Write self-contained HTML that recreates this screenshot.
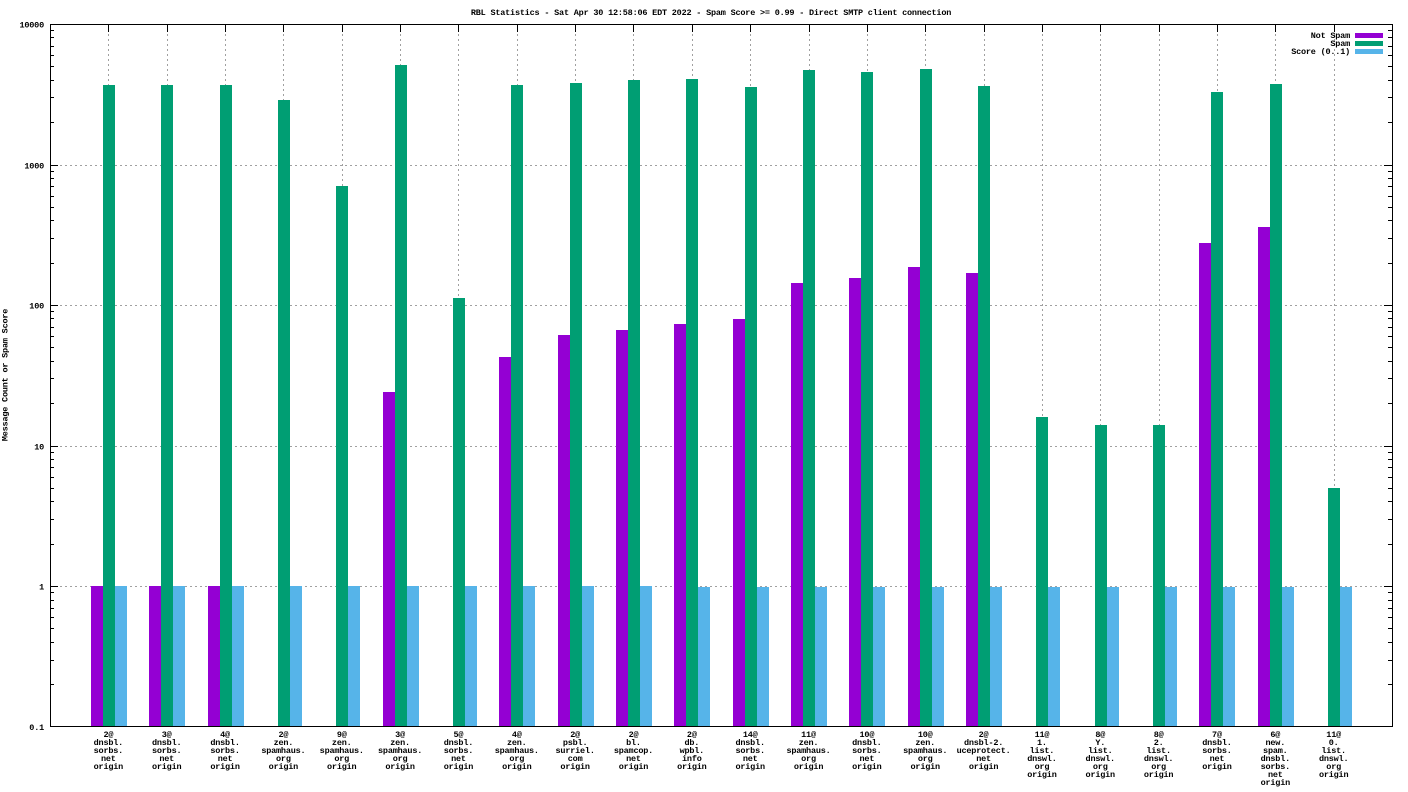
<!DOCTYPE html>
<html><head><meta charset="utf-8"><style>
html,body{margin:0;padding:0;background:#fff;}
svg{display:block;}
text{font-family:"Liberation Mono","DejaVu Sans Mono",monospace;font-size:8.5px;font-weight:bold;letter-spacing:-0.2px;fill:#000;}
</style></head><body>
<svg width="1408" height="792" viewBox="0 0 1408 792" xmlns="http://www.w3.org/2000/svg">
<rect x="0" y="0" width="1408" height="792" fill="#fff"/>
<!-- grid -->
<g stroke="#a0a0a0" stroke-width="1" stroke-dasharray="2,3" fill="none">
<path d="M50 586.5H1392M50 446.5H1392M50 305.5H1392M50 165.5H1392"/>
<path d="M108.5 24V727M167.5 24V727M225.5 24V727M283.5 24V727M342.5 24V727M400.5 24V727M458.5 24V727M517.5 24V727M575.5 24V727M633.5 24V727M692.5 24V727M750.5 24V727M809.5 24V727M867.5 24V727M925.5 24V727M984.5 24V727M1042.5 24V727M1100.5 24V727M1159.5 24V727M1217.5 24V727M1275.5 24V727M1334.5 24V727"/>
</g>
<!-- ticks -->
<g stroke="#000" stroke-width="1" fill="none">
<path d="M50 24.5h8M50 165.5h8M50 305.5h8M50 446.5h8M50 586.5h8M50 726.5h8M1392 24.5h-8M1392 165.5h-8M1392 305.5h-8M1392 446.5h-8M1392 586.5h-8M1392 726.5h-8"/>
<path d="M50 684.5h4M50 660.5h4M50 642.5h4M50 628.5h4M50 617.5h4M50 608.5h4M50 600.5h4M50 592.5h4M50 544.5h4M50 519.5h4M50 501.5h4M50 488.5h4M50 477.5h4M50 467.5h4M50 459.5h4M50 452.5h4M50 403.5h4M50 378.5h4M50 361.5h4M50 347.5h4M50 336.5h4M50 327.5h4M50 318.5h4M50 311.5h4M50 263.5h4M50 238.5h4M50 220.5h4M50 207.5h4M50 196.5h4M50 186.5h4M50 178.5h4M50 171.5h4M50 122.5h4M50 97.5h4M50 80.5h4M50 66.5h4M50 55.5h4M50 46.5h4M50 37.5h4M50 30.5h4"/>
<path d="M1392 684.5h-4M1392 660.5h-4M1392 642.5h-4M1392 628.5h-4M1392 617.5h-4M1392 608.5h-4M1392 600.5h-4M1392 592.5h-4M1392 544.5h-4M1392 519.5h-4M1392 501.5h-4M1392 488.5h-4M1392 477.5h-4M1392 467.5h-4M1392 459.5h-4M1392 452.5h-4M1392 403.5h-4M1392 378.5h-4M1392 361.5h-4M1392 347.5h-4M1392 336.5h-4M1392 327.5h-4M1392 318.5h-4M1392 311.5h-4M1392 263.5h-4M1392 238.5h-4M1392 220.5h-4M1392 207.5h-4M1392 196.5h-4M1392 186.5h-4M1392 178.5h-4M1392 171.5h-4M1392 122.5h-4M1392 97.5h-4M1392 80.5h-4M1392 66.5h-4M1392 55.5h-4M1392 46.5h-4M1392 37.5h-4M1392 30.5h-4"/>
<path d="M108.5 24v8M167.5 24v8M225.5 24v8M283.5 24v8M342.5 24v8M400.5 24v8M458.5 24v8M517.5 24v8M575.5 24v8M633.5 24v8M692.5 24v8M750.5 24v8M809.5 24v8M867.5 24v8M925.5 24v8M984.5 24v8M1042.5 24v8M1100.5 24v8M1159.5 24v8M1217.5 24v8M1275.5 24v8M1334.5 24v8"/>
<path d="M108.5 727v-8M167.5 727v-8M225.5 727v-8M283.5 727v-8M342.5 727v-8M400.5 727v-8M458.5 727v-8M517.5 727v-8M575.5 727v-8M633.5 727v-8M692.5 727v-8M750.5 727v-8M809.5 727v-8M867.5 727v-8M925.5 727v-8M984.5 727v-8M1042.5 727v-8M1100.5 727v-8M1159.5 727v-8M1217.5 727v-8M1275.5 727v-8M1334.5 727v-8"/>
</g>
<!-- Not Spam bars -->
<g fill="#9400d3">
<rect x="91" y="586" width="12" height="140"/>
<rect x="149" y="586" width="12" height="140"/>
<rect x="208" y="586" width="12" height="140"/>
<rect x="383" y="392" width="12" height="334"/>
<rect x="499" y="357" width="12" height="369"/>
<rect x="558" y="335" width="12" height="391"/>
<rect x="616" y="330" width="12" height="396"/>
<rect x="674" y="324" width="12" height="402"/>
<rect x="733" y="319" width="12" height="407"/>
<rect x="791" y="283" width="12" height="443"/>
<rect x="849" y="278" width="12" height="448"/>
<rect x="908" y="267" width="12" height="459"/>
<rect x="966" y="273" width="12" height="453"/>
<rect x="1199" y="243" width="12" height="483"/>
<rect x="1258" y="227" width="12" height="499"/>
</g>
<!-- Spam bars -->
<g fill="#009e73">
<rect x="103" y="85" width="12" height="641"/>
<rect x="161" y="85" width="12" height="641"/>
<rect x="220" y="85" width="12" height="641"/>
<rect x="278" y="100" width="12" height="626"/>
<rect x="336" y="186" width="12" height="540"/>
<rect x="395" y="65" width="12" height="661"/>
<rect x="453" y="298" width="12" height="428"/>
<rect x="511" y="85" width="12" height="641"/>
<rect x="570" y="83" width="12" height="643"/>
<rect x="628" y="80" width="12" height="646"/>
<rect x="686" y="79" width="12" height="647"/>
<rect x="745" y="87" width="12" height="639"/>
<rect x="803" y="70" width="12" height="656"/>
<rect x="861" y="72" width="12" height="654"/>
<rect x="920" y="69" width="12" height="657"/>
<rect x="978" y="86" width="12" height="640"/>
<rect x="1036" y="417" width="12" height="309"/>
<rect x="1095" y="425" width="12" height="301"/>
<rect x="1153" y="425" width="12" height="301"/>
<rect x="1211" y="92" width="12" height="634"/>
<rect x="1270" y="84" width="12" height="642"/>
<rect x="1328" y="488" width="12" height="238"/>
</g>
<!-- Score bars -->
<g fill="#56b4e9">
<rect x="115" y="586" width="12" height="140"/>
<rect x="173" y="586" width="12" height="140"/>
<rect x="232" y="586" width="12" height="140"/>
<rect x="290" y="586" width="12" height="140"/>
<rect x="348" y="586" width="12" height="140"/>
<rect x="407" y="586" width="12" height="140"/>
<rect x="465" y="586" width="12" height="140"/>
<rect x="523" y="586" width="12" height="140"/>
<rect x="582" y="586" width="12" height="140"/>
<rect x="640" y="586" width="12" height="140"/>
<rect x="698" y="587" width="12" height="139"/>
<rect x="757" y="587" width="12" height="139"/>
<rect x="815" y="587" width="12" height="139"/>
<rect x="873" y="587" width="12" height="139"/>
<rect x="932" y="587" width="12" height="139"/>
<rect x="990" y="587" width="12" height="139"/>
<rect x="1048" y="587" width="12" height="139"/>
<rect x="1107" y="587" width="12" height="139"/>
<rect x="1165" y="587" width="12" height="139"/>
<rect x="1223" y="587" width="12" height="139"/>
<rect x="1282" y="587" width="12" height="139"/>
<rect x="1340" y="587" width="12" height="139"/>
</g>
<!-- border -->
<rect x="50.5" y="24.5" width="1342" height="702" fill="none" stroke="#000" stroke-width="1"/>
<!-- title -->
<text x="711" y="15" text-anchor="middle">RBL Statistics - Sat Apr 30 12:58:06 EDT 2022 - Spam Score &gt;= 0.99 - Direct SMTP client connection</text>
<!-- y tick labels -->
<g text-anchor="end">
<text x="44" y="27.5">10000</text>
<text x="44" y="168.5">1000</text>
<text x="44" y="308.5">100</text>
<text x="44" y="449.5">10</text>
<text x="44" y="589.5">1</text>
<text x="44" y="730">0.1</text>
</g>
<!-- y label -->
<text x="0" y="0" text-anchor="middle" transform="translate(7.5,375) rotate(-90)">Message Count or Spam Score</text>
<!-- legend -->
<g text-anchor="end">
<text x="1350" y="38">Not Spam</text>
<text x="1350" y="46">Spam</text>
<text x="1350" y="54">Score (0..1)</text>
</g>
<rect x="1355" y="33" width="28" height="5" fill="#9400d3"/>
<rect x="1355" y="41" width="28" height="5" fill="#009e73"/>
<rect x="1355" y="49" width="28" height="5" fill="#56b4e9"/>
<!-- x labels -->
<g text-anchor="middle">
<text y="737"><tspan x="108.35">2@</tspan><tspan x="108.35" dy="8">dnsbl.</tspan><tspan x="108.35" dy="8">sorbs.</tspan><tspan x="108.35" dy="8">net</tspan><tspan x="108.35" dy="8">origin</tspan></text>
<text y="737"><tspan x="166.7">3@</tspan><tspan x="166.7" dy="8">dnsbl.</tspan><tspan x="166.7" dy="8">sorbs.</tspan><tspan x="166.7" dy="8">net</tspan><tspan x="166.7" dy="8">origin</tspan></text>
<text y="737"><tspan x="225.04">4@</tspan><tspan x="225.04" dy="8">dnsbl.</tspan><tspan x="225.04" dy="8">sorbs.</tspan><tspan x="225.04" dy="8">net</tspan><tspan x="225.04" dy="8">origin</tspan></text>
<text y="737"><tspan x="283.39">2@</tspan><tspan x="283.39" dy="8">zen.</tspan><tspan x="283.39" dy="8">spamhaus.</tspan><tspan x="283.39" dy="8">org</tspan><tspan x="283.39" dy="8">origin</tspan></text>
<text y="737"><tspan x="341.74">9@</tspan><tspan x="341.74" dy="8">zen.</tspan><tspan x="341.74" dy="8">spamhaus.</tspan><tspan x="341.74" dy="8">org</tspan><tspan x="341.74" dy="8">origin</tspan></text>
<text y="737"><tspan x="400.09">3@</tspan><tspan x="400.09" dy="8">zen.</tspan><tspan x="400.09" dy="8">spamhaus.</tspan><tspan x="400.09" dy="8">org</tspan><tspan x="400.09" dy="8">origin</tspan></text>
<text y="737"><tspan x="458.44">5@</tspan><tspan x="458.44" dy="8">dnsbl.</tspan><tspan x="458.44" dy="8">sorbs.</tspan><tspan x="458.44" dy="8">net</tspan><tspan x="458.44" dy="8">origin</tspan></text>
<text y="737"><tspan x="516.78">4@</tspan><tspan x="516.78" dy="8">zen.</tspan><tspan x="516.78" dy="8">spamhaus.</tspan><tspan x="516.78" dy="8">org</tspan><tspan x="516.78" dy="8">origin</tspan></text>
<text y="737"><tspan x="575.13">2@</tspan><tspan x="575.13" dy="8">psbl.</tspan><tspan x="575.13" dy="8">surriel.</tspan><tspan x="575.13" dy="8">com</tspan><tspan x="575.13" dy="8">origin</tspan></text>
<text y="737"><tspan x="633.48">2@</tspan><tspan x="633.48" dy="8">bl.</tspan><tspan x="633.48" dy="8">spamcop.</tspan><tspan x="633.48" dy="8">net</tspan><tspan x="633.48" dy="8">origin</tspan></text>
<text y="737"><tspan x="691.83">2@</tspan><tspan x="691.83" dy="8">db.</tspan><tspan x="691.83" dy="8">wpbl.</tspan><tspan x="691.83" dy="8">info</tspan><tspan x="691.83" dy="8">origin</tspan></text>
<text y="737"><tspan x="750.18">14@</tspan><tspan x="750.18" dy="8">dnsbl.</tspan><tspan x="750.18" dy="8">sorbs.</tspan><tspan x="750.18" dy="8">net</tspan><tspan x="750.18" dy="8">origin</tspan></text>
<text y="737"><tspan x="808.52">11@</tspan><tspan x="808.52" dy="8">zen.</tspan><tspan x="808.52" dy="8">spamhaus.</tspan><tspan x="808.52" dy="8">org</tspan><tspan x="808.52" dy="8">origin</tspan></text>
<text y="737"><tspan x="866.87">10@</tspan><tspan x="866.87" dy="8">dnsbl.</tspan><tspan x="866.87" dy="8">sorbs.</tspan><tspan x="866.87" dy="8">net</tspan><tspan x="866.87" dy="8">origin</tspan></text>
<text y="737"><tspan x="925.22">10@</tspan><tspan x="925.22" dy="8">zen.</tspan><tspan x="925.22" dy="8">spamhaus.</tspan><tspan x="925.22" dy="8">org</tspan><tspan x="925.22" dy="8">origin</tspan></text>
<text y="737"><tspan x="983.57">2@</tspan><tspan x="983.57" dy="8">dnsbl-2.</tspan><tspan x="983.57" dy="8">uceprotect.</tspan><tspan x="983.57" dy="8">net</tspan><tspan x="983.57" dy="8">origin</tspan></text>
<text y="737"><tspan x="1041.92">11@</tspan><tspan x="1041.92" dy="8">1.</tspan><tspan x="1041.92" dy="8">list.</tspan><tspan x="1041.92" dy="8">dnswl.</tspan><tspan x="1041.92" dy="8">org</tspan><tspan x="1041.92" dy="8">origin</tspan></text>
<text y="737"><tspan x="1100.26">8@</tspan><tspan x="1100.26" dy="8">Y.</tspan><tspan x="1100.26" dy="8">list.</tspan><tspan x="1100.26" dy="8">dnswl.</tspan><tspan x="1100.26" dy="8">org</tspan><tspan x="1100.26" dy="8">origin</tspan></text>
<text y="737"><tspan x="1158.61">8@</tspan><tspan x="1158.61" dy="8">2.</tspan><tspan x="1158.61" dy="8">list.</tspan><tspan x="1158.61" dy="8">dnswl.</tspan><tspan x="1158.61" dy="8">org</tspan><tspan x="1158.61" dy="8">origin</tspan></text>
<text y="737"><tspan x="1216.96">7@</tspan><tspan x="1216.96" dy="8">dnsbl.</tspan><tspan x="1216.96" dy="8">sorbs.</tspan><tspan x="1216.96" dy="8">net</tspan><tspan x="1216.96" dy="8">origin</tspan></text>
<text y="737"><tspan x="1275.31">6@</tspan><tspan x="1275.31" dy="8">new.</tspan><tspan x="1275.31" dy="8">spam.</tspan><tspan x="1275.31" dy="8">dnsbl.</tspan><tspan x="1275.31" dy="8">sorbs.</tspan><tspan x="1275.31" dy="8">net</tspan><tspan x="1275.31" dy="8">origin</tspan></text>
<text y="737"><tspan x="1333.66">11@</tspan><tspan x="1333.66" dy="8">0.</tspan><tspan x="1333.66" dy="8">list.</tspan><tspan x="1333.66" dy="8">dnswl.</tspan><tspan x="1333.66" dy="8">org</tspan><tspan x="1333.66" dy="8">origin</tspan></text>
</g>
</svg>
</body></html>
